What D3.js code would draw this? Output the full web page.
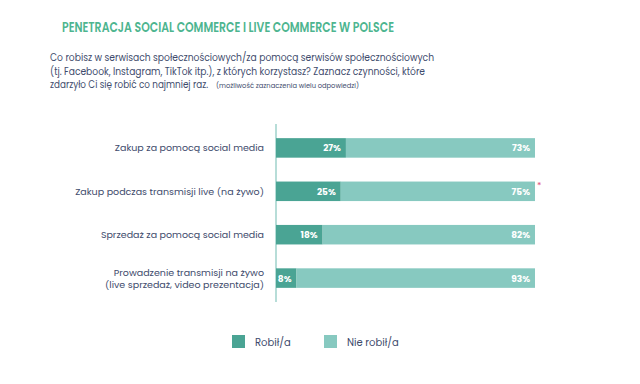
<!DOCTYPE html>
<html><head><meta charset="utf-8">
<script src="https://cdn.jsdelivr.net/npm/d3@7"></script>
<style>body{margin:0;background:#fff}svg{display:block}text{font-family:Poppins,"Open Sans",Lato,sans-serif}</style>
</head><body><svg id="c" width="640" height="384"></svg>
<script>
const categories = [
  ["Zakup za pomocą social media"],
  ["Zakup podczas transmisji live (na żywo)"],
  ["Sprzedaż za pomocą social media"],
  ["Prowadzenie transmisji na żywo", "(live sprzedaż, video prezentacja)"]
];
const didValues = [27, 25, 18, 8];
const didNotValues = [73, 75, 82, 93];
const seriesNames = ["Robił/a", "Nie robił/a"];
const colors = ["#4aa494", "#87c9c0"];

const svg = d3.select("#c");
const textCol = "#3e4b6c";

const title = svg.append("text").attr("x", 62).attr("y", 31.5).attr("fill", "#4db58f")
  .attr("font-size", 14.5).attr("font-weight", 600)
  .text("PENETRACJA SOCIAL COMMERCE I LIVE COMMERCE W POLSCE");
const tw = title.node().getComputedTextLength();
if (Math.abs(tw - 332) > 6) title.attr("textLength", 332).attr("lengthAdjust", "spacingAndGlyphs");

const sub = [
  {t: "Co robisz w serwisach społecznościowych/za pomocą serwisów społecznościowych", w: 384},
  {t: "(tj. Facebook, Instagram, TikTok itp.), z których korzystasz? Zaznacz czynności, które", w: 375},
  {t: "zdarzyło Ci się robić co najmniej raz.", w: 158}
];
sub.forEach((s, i) => {
  const t = svg.append("text").attr("x", 50).attr("y", 61 + i * 13.6).attr("fill", textCol)
    .attr("font-size", 10).text(s.t);
  const w = t.node().getComputedTextLength();
  if (Math.abs(w - s.w) > 4) t.attr("textLength", s.w).attr("lengthAdjust", "spacingAndGlyphs");
});
svg.append("text").attr("x", 216).attr("y", 88).attr("fill", textCol)
  .attr("font-size", 6.5).attr("textLength", 143).attr("lengthAdjust", "spacingAndGlyphs")
  .text("(możliwość zaznaczenia wielu odpowiedzi)");

const x = d3.scaleLinear().domain([0, 1]).range([276, 535]);
const y = d3.scaleBand().domain(d3.range(categories.length)).range([126, 300]).paddingInner(0.55).paddingOuter(0.28);

const rows = categories.map((c, i) => ({i, did: didValues[i], not: didNotValues[i]}));

svg.append("line").attr("x1", 276).attr("x2", 276).attr("y1", 124).attr("y2", 302)
  .attr("stroke", "#9fd2cb").attr("stroke-width", 1.5);

rows.forEach(r => {
  const tot = r.did + r.not;
  const a = r.did / tot;
  const g = svg.append("g");
  g.append("rect").attr("x", x(0)).attr("y", y(r.i)).attr("width", x(a) - x(0)).attr("height", y.bandwidth()).attr("fill", colors[0]);
  g.append("rect").attr("x", x(a)).attr("y", y(r.i)).attr("width", x(1) - x(a)).attr("height", y.bandwidth()).attr("fill", colors[1]);
  const cy = y(r.i) + y.bandwidth() / 2 + 3.5;
  g.append("text").attr("x", x(a) - 5).attr("y", cy).attr("text-anchor", "end").attr("fill", "#fff")
    .attr("font-size", 9).attr("font-weight", 700).text(r.did + "%");
  g.append("text").attr("x", x(1) - 5).attr("y", cy).attr("text-anchor", "end").attr("fill", "#fff")
    .attr("font-size", 9).attr("font-weight", 700).text(r.not + "%");
  const lines = categories[r.i];
  lines.forEach((l, k) => {
    svg.append("text").attr("x", 264).attr("y", y(r.i) + y.bandwidth() / 2 + 3.5 + (k - (lines.length - 1) / 2) * 12)
      .attr("text-anchor", "end").attr("fill", textCol).attr("font-size", 9.5).text(l);
  });
});

svg.append("text").attr("x", 537).attr("y", 189).attr("fill", "#e0507a").attr("font-size", 9).text("*");

const leg = [{x: 232, tx: 255}, {x: 324, tx: 347}];
seriesNames.forEach((n, i) => {
  svg.append("rect").attr("x", leg[i].x).attr("y", 335).attr("width", 13).attr("height", 13).attr("fill", colors[i]);
  svg.append("text").attr("x", leg[i].tx).attr("y", 345.5).attr("fill", textCol).attr("font-size", 10).text(n);
});
</script></body></html>
